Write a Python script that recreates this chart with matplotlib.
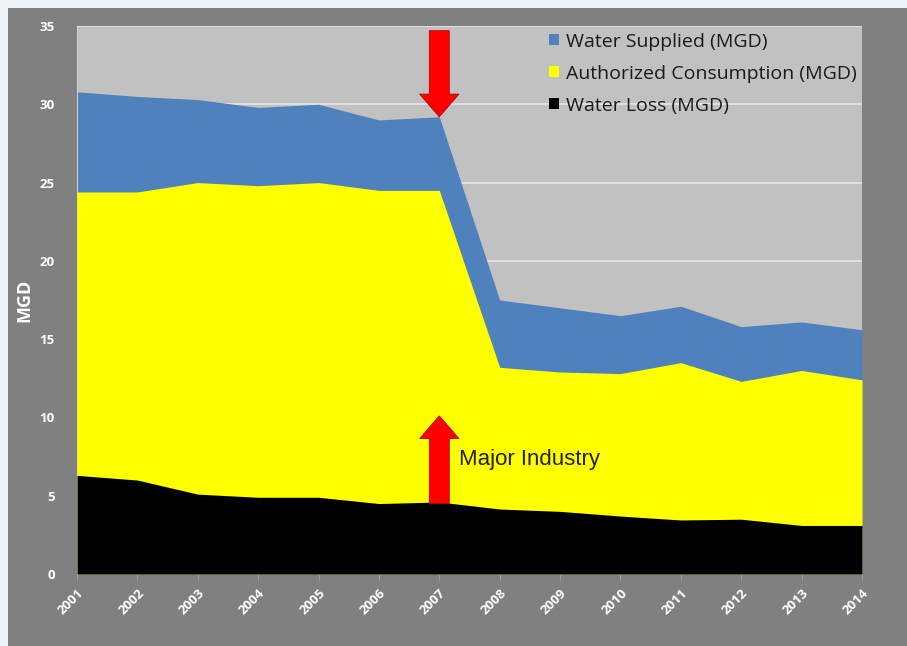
import matplotlib
matplotlib.use("Agg")
import matplotlib.pyplot as plt
from matplotlib.patches import Rectangle, FancyArrow
import numpy as np

years = ["2001", "2002", "2003", "2004", "2005", "2006", "2007",
         "2008", "2009", "2010", "2011", "2012", "2013", "2014"]
water_supplied = [30.8, 30.5, 30.3, 29.8, 30.0, 29.0, 29.2,
                  17.5, 17.0, 16.5, 17.1, 15.8, 16.1, 15.6]
authorized_consumption = [24.4, 24.4, 25.0, 24.8, 25.0, 24.5, 24.5,
                          13.2, 12.9, 12.8, 13.5, 12.3, 13.0, 12.4]
water_loss = [6.3, 6.0, 5.1, 4.9, 4.9, 4.5, 4.6,
              4.15, 4.0, 3.7, 3.45, 3.5, 3.1, 3.1]
y_ticks = [0, 5, 10, 15, 20, 25, 30, 35]

W, H = 907, 646
fig = plt.figure(figsize=(W / 100, H / 100), dpi=100, facecolor="#eef3f8")
# dark gray panel behind the chart
fig.add_artist(Rectangle((8 / W, 0), 1 - 8 / W, 1 - 8 / H,
                         transform=fig.transFigure, facecolor="#808080",
                         edgecolor="none", zorder=-10))

ax = fig.add_axes([77 / W, 1 - 574 / H, (862 - 77) / W, (574 - 26) / H])
ax.set_facecolor("#c1c1c1")

x = np.arange(len(years))
ax.fill_between(x, 0, water_supplied, color="#4f81bd", lw=0, zorder=2,
                label="Water Supplied (MGD)")
ax.fill_between(x, 0, authorized_consumption, color="#ffff00", lw=0, zorder=3,
                label="Authorized Consumption (MGD)")
ax.fill_between(x, 0, water_loss, color="#000000", lw=0, zorder=4,
                label="Water Loss (MGD)")

ax.set_xlim(0, len(years) - 1)
ax.set_ylim(0, 35)
ax.set_yticks(y_ticks)
ax.set_xticks(x)
ax.set_xticklabels(years, rotation=45, ha="right", rotation_mode="anchor")
ax.grid(axis="y", color="#e6e6e6", lw=1.2, zorder=1)
ax.set_axisbelow(True)
for s in ["top", "right", "bottom"]:
    ax.spines[s].set_visible(False)
ax.spines["left"].set_color("#d0d0d0")
ax.tick_params(axis="y", length=0, pad=16, colors="white", labelsize=9.5)
ax.tick_params(axis="x", length=4, color="#a0a0a0", colors="white",
               labelsize=9.5, pad=5)
for lab in ax.get_xticklabels() + ax.get_yticklabels():
    lab.set_fontfamily("Open Sans")
    lab.set_fontweight("bold")
    lab.set_color("white")

ax.set_ylabel("MGD", color="white", fontsize=13, fontweight="bold",
              fontfamily="Open Sans", labelpad=2)
ax.yaxis.set_label_coords(-0.056, 0.5)

# arrows marking the loss of the major industrial customer
i07 = years.index("2007")
ax.add_patch(FancyArrow(i07, 34.7, 0, water_supplied[i07] - 34.7,
                        width=0.33, head_width=0.65, head_length=1.45,
                        length_includes_head=True, color="#ff0000",
                        ec="#b00000", lw=0.6, zorder=6))
ax.add_patch(FancyArrow(i07, water_loss[i07] - 0.1, 0, 10.1 - water_loss[i07] + 0.1,
                        width=0.33, head_width=0.65, head_length=1.45,
                        length_includes_head=True, color="#ff0000",
                        ec="#b00000", lw=0.6, zorder=6))
ax.text(i07 + 0.33, 7.3, "Major Industry", fontsize=16, color="#222222",
        fontfamily="Liberation Sans", va="center", ha="left", zorder=7)

leg = ax.legend(loc="upper right", bbox_to_anchor=(1.015, 1.02), frameon=False,
                handlelength=0.5, handleheight=0.5,
                handletextpad=0.35, labelspacing=0.72,
                prop={"family": "Open Sans", "size": 14})
for t in leg.get_texts():
    t.set_color("#1a1a1a")

fig.savefig("out.png", dpi=100, facecolor=fig.get_facecolor())
